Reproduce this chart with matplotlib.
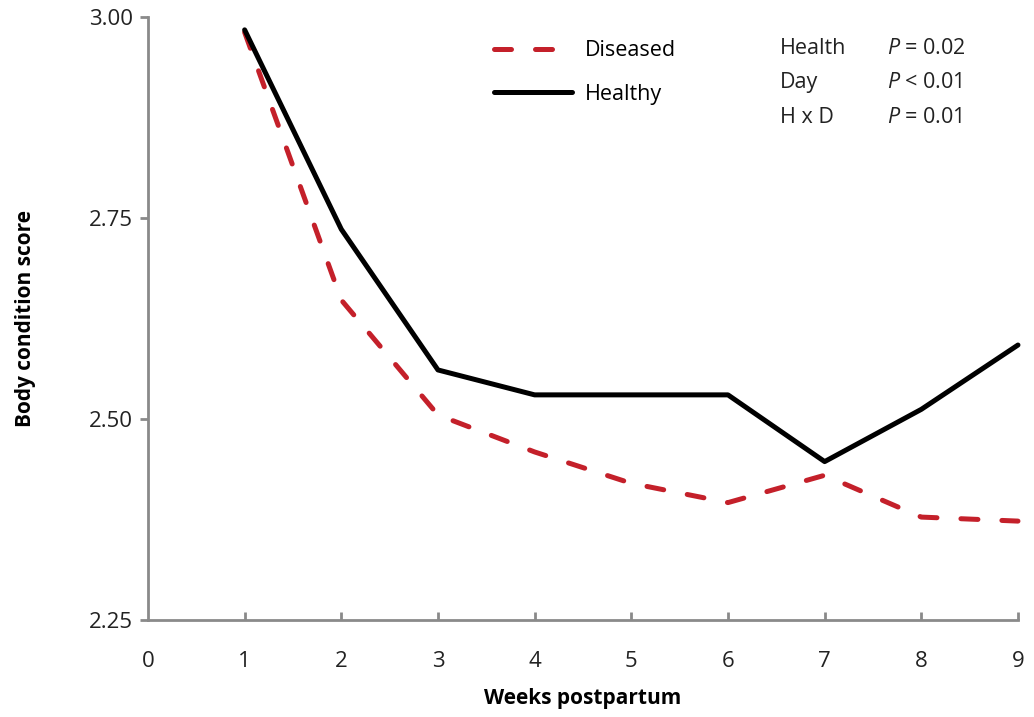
import matplotlib
matplotlib.use("Agg")
import matplotlib.pyplot as plt

weeks = [1, 2, 3, 4, 5, 6, 7, 8, 9]
healthy = [2.984, 2.736, 2.561, 2.530, 2.530, 2.530, 2.447, 2.512, 2.592]
diseased = [2.981, 2.648, 2.505, 2.459, 2.420, 2.396, 2.430, 2.378, 2.373]

stat_terms = ["Health", "Day", "H x D"]
stat_ops = ["=", "<", "="]
stat_vals = ["0.02", "0.01", "0.01"]

plt.rcParams["font.family"] = ["Open Sans", "DejaVu Sans"]
plt.rcParams["mathtext.fontset"] = "custom"
plt.rcParams["mathtext.rm"] = "Open Sans"
plt.rcParams["mathtext.it"] = "Open Sans:italic"
GREY = "#8a8a8a"
RED = "#c4202a"
TXT = "#222222"

fig = plt.figure(figsize=(10.34, 7.17), dpi=100)
ax = fig.add_axes([0.1431, 0.1353, 0.8414, 0.8410])

ax.plot(weeks, diseased, color=RED, lw=3.6, dashes=(3.4, 4.8),
        dash_capstyle="round", label="Diseased", clip_on=False)
ax.plot(weeks, healthy, color="black", lw=3.6, solid_capstyle="round",
        label="Healthy", clip_on=False)

ax.set_xlim(0, 9)
ax.set_ylim(2.25, 3.00)
ax.set_xticks(range(0, 10))
ax.set_yticks([2.25, 2.50, 2.75, 3.00])
ax.set_yticklabels(["2.25", "2.50", "2.75", "3.00"])

for s in ["top", "right"]:
    ax.spines[s].set_visible(False)
for s in ["left", "bottom"]:
    ax.spines[s].set_color(GREY)
    ax.spines[s].set_linewidth(2)

ax.tick_params(axis="y", direction="out", length=6, width=2, color=GREY,
               labelsize=16, pad=5, labelcolor=TXT)
ax.tick_params(axis="x", direction="in", length=6, width=2, color=GREY,
               labelsize=16, pad=22, labelcolor=TXT)
ax.xaxis.get_major_ticks()[0].tick1line.set_visible(False)

ax.set_xlabel("Weeks postpartum", fontsize=15, fontweight="bold", labelpad=12)
ax.set_ylabel("Body condition score", fontsize=15, fontweight="bold", labelpad=38)

ax.legend(loc="upper left", bbox_to_anchor=(0.378, 0.99), frameon=False,
          fontsize=15.5, handlelength=3.6, handletextpad=0.6, labelspacing=1.05,
          borderaxespad=0.4)

y0 = 0.948
for i, (t, op, v) in enumerate(zip(stat_terms, stat_ops, stat_vals)):
    y = y0 - i * 0.057
    ax.text(0.726, y, t, transform=ax.transAxes, fontsize=15.5, color=TXT,
            va="center", ha="left")
    ax.text(0.849, y, f"$P$ {op} {v}", transform=ax.transAxes, fontsize=15.5,
            color=TXT, va="center", ha="left")

fig.savefig("out.png", dpi=100)
